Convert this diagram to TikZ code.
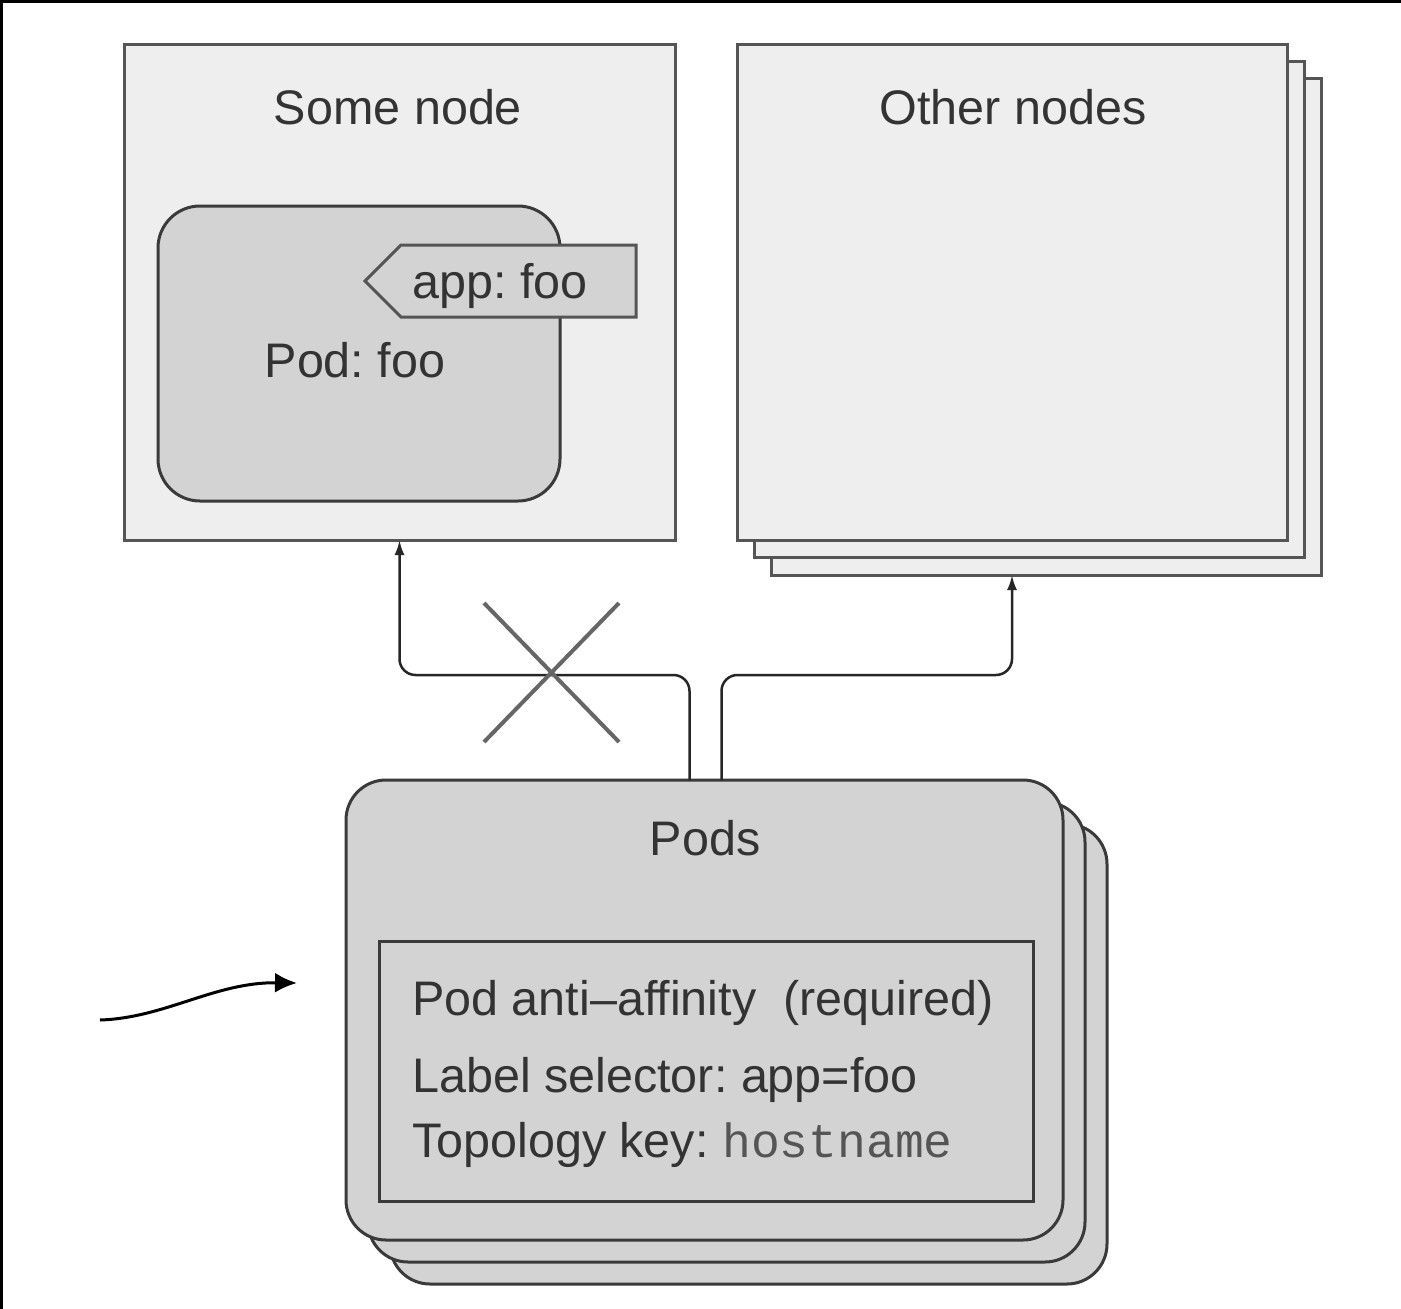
\documentclass[tikz,border=0pt]{standalone}
\usepackage{fontspec}
\setmainfont{Liberation Sans}
\setmonofont{Liberation Mono}
\usetikzlibrary{arrows.meta}
\definecolor{nodefill}{HTML}{EEEEEE}
\definecolor{podfill}{HTML}{D3D3D3}
\definecolor{edgegray}{HTML}{555555}
\definecolor{darkedge}{HTML}{3A3A3A}
\definecolor{txt}{HTML}{333333}
\definecolor{crossgray}{HTML}{666666}
\frenchspacing
\tikzset{
  hostbox/.style={draw=edgegray, line width=3pt, fill=nodefill, anchor=north west, inner sep=0pt, outer sep=0pt},
  podbox/.style={draw=darkedge, line width=3pt, fill=podfill, rounded corners=40pt, anchor=north west, inner sep=0pt, outer sep=0pt},
  lbl/.style={text=txt, font=\fontsize{48.5}{58}\selectfont, anchor=base, inner sep=0pt},
  lbll/.style={lbl, anchor=base west},
  conn/.style={draw=black!85, line width=2.5pt, rounded corners=16pt, -{Latex[length=15pt,width=10pt]}},
}
\begin{document}
\begin{tikzpicture}[x=1pt,y=-1pt]
\useasboundingbox (0,0) rectangle (1401,1309);
\fill[white] (0,0) rectangle (1401,1309);
\draw[black, line width=3pt] (0,1.5) -- (1401,1.5);
\draw[black, line width=3pt] (1.5,0) -- (1.5,1309);

% Some node
\node[hostbox, minimum width=551pt, minimum height=496pt] (some) at (124,44) {};
\node[lbl] (somelbl) at (398,124) {Some node};
\node[podbox, rounded corners=42pt, minimum width=402pt, minimum height=295pt] (podfoo) at (158,206) {};
\draw[edgegray, line width=3pt, fill=podfill] (365,281) -- (401,245) -- (636,245) -- (636,317) -- (401,317) -- cycle;
\node[lbl] (tag) at (500,298) {app: foo};
\node[lbl] (podfoolbl) at (355,377) {Pod: foo};

% Other nodes (stack)
\node[hostbox, minimum width=550pt, minimum height=497pt] (oth3) at (771,78) {};
\node[hostbox, minimum width=550pt, minimum height=496pt] (oth2) at (754,61) {};
\node[hostbox, minimum width=550pt, minimum height=496pt] (oth1) at (737,44) {};
\node[lbl] (othlbl) at (1013,124) {Other nodes};

% Pods (stack)
\node[podbox, minimum width=717pt, minimum height=460pt] (pods3) at (390,824) {};
\node[podbox, minimum width=717pt, minimum height=460pt] (pods2) at (368,802) {};
\node[podbox, minimum width=717pt, minimum height=460pt] (pods) at (346,780) {};
\node[lbl] (podslbl) at (705,855) {Pods};
\node[draw=darkedge, line width=3pt, fill=podfill, anchor=north west, inner sep=0pt, minimum width=654pt, minimum height=260pt] (rule) at (378,940) {};
\node[lbll] (l1) at (412,1015) {Pod anti–affinity\ \ (required)};
\node[lbll] (l2) at (412,1092) {Label selector: app=foo};
\node[lbll] (l3) at (412,1157) {Topology key: {\color{edgegray}\fontsize{48}{58}\selectfont\ttfamily hostname}};

% Connectors
\draw[conn] ([xshift=-15pt]pods.north) |- ([yshift=-135pt]some.south) -- (some.south);
\draw[conn] ([xshift=17pt]pods.north) |- ([yshift=-100pt]oth3.south -| oth1.south) -- (oth3.south -| oth1.south);

% Cross
\draw[crossgray, line width=4pt] (484,603) -- (619,742);
\draw[crossgray, line width=4pt] (619,603) -- (484,742);

% Pointer arrow
\coordinate (ps) at (100,1020);
\coordinate (pe) at (297,983);
\draw[black, line width=3pt, -{Latex[length=22pt,width=20pt]}] (ps) .. controls (165,1018) and (215,982) .. (pe);
\end{tikzpicture}
\end{document}
